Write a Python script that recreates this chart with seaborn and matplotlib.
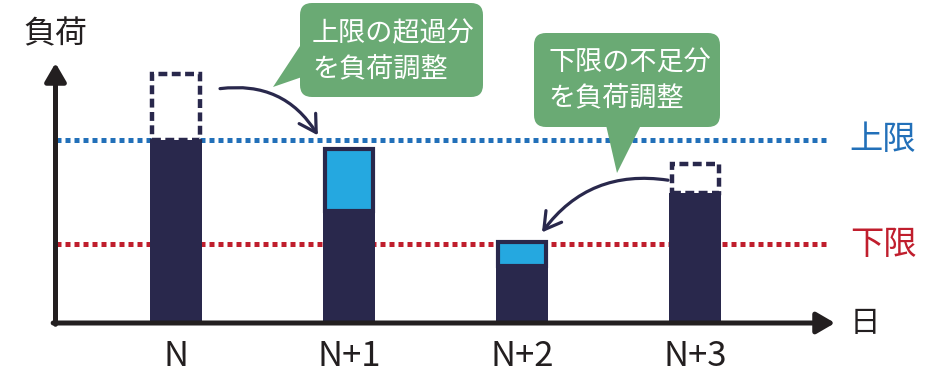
import matplotlib
matplotlib.use("Agg")
import matplotlib.pyplot as plt
import matplotlib.transforms as mtransforms
from matplotlib.patches import FancyBboxPatch, Polygon
import numpy as np
import seaborn as sns

# data (load units, upper limit = 100)
days = ["N", "N+1", "N+2", "N+3"]
load_before = [136, 61, 31, 87]   # planned load before adjustment
load_after = [100, 95, 44, 71]    # load after adjustment
upper_limit = 100
lower_limit = 43
callout_upper = ["上限の超過分", "を負荷調整"]
callout_lower = ["下限の不足分", "を負荷調整"]

NAVY = "#29284c"
CYAN = "#25a8e0"
GREEN = "#6aaa74"
BLUE = "#2270b9"
RED = "#c01e2d"
INK = "#231f20"

sns.set_style("white")
plt.rcParams["font.family"] = ["Noto Sans CJK JP", "DejaVu Sans"]

fig = plt.figure(figsize=(9.35, 3.92), dpi=100)
ax = fig.add_axes([55.5 / 935, 69 / 392, 779.5 / 935, 260 / 392])

bar_w = 0.30
px = 1 / 173.15  # one pixel in x data units

sns.barplot(x=days, y=load_after, color=NAVY, saturation=1, width=bar_w,
            ax=ax, zorder=3, linewidth=0)

pos = np.arange(len(days))
before = np.array(load_before)
after = np.array(load_after)
up = after > before
down = ~up

# added load (cyan inside navy frame)
ax.bar(pos[up], (after - before)[up], bottom=before[up], width=bar_w - 4 * px,
       color=CYAN, edgecolor=NAVY, linewidth=3, zorder=4)
# removed load (dashed outline)
ax.bar(pos[down], (before - after)[down], bottom=after[down], width=bar_w - 4.5 * px,
       color="white", edgecolor=NAVY, linewidth=3.2, linestyle=(0, (2.0, 1.0)), zorder=2)

# limit lines
ax.axhline(upper_limit, xmin=0, xmax=0.988, color=BLUE, lw=3.6,
           linestyle=(0, (1, 0.8)), zorder=1)
ax.axhline(lower_limit, xmin=0, xmax=0.988, color=RED, lw=3.6,
           linestyle=(0, (1, 0.8)), zorder=1)

blend = mtransforms.blended_transform_factory(ax.transAxes, ax.transData)
ax.text(1.019, upper_limit, "上限", color=BLUE, fontsize=24, va="center", ha="left",
        transform=blend, clip_on=False)
ax.text(1.019, lower_limit, "下限", color=RED, fontsize=24, va="center", ha="left",
        transform=blend, clip_on=False)
ax.text(1.019, 0, "日", color=INK, fontsize=22, va="center", ha="left",
        transform=blend, clip_on=False)
ax.text(0, 1.11, "負荷", color=INK, fontsize=23, va="center", ha="center",
        transform=ax.transAxes, clip_on=False)

# axes as arrows
arrow_kw = dict(arrowstyle="-|>,head_length=0.55,head_width=0.32", color=INK,
                lw=3.6, shrinkA=0, shrinkB=0, mutation_scale=20)
ax.annotate("", xy=(0, 1), xytext=(0, -0.005), xycoords="axes fraction",
            arrowprops=arrow_kw, annotation_clip=False)
ax.annotate("", xy=(1, 0), xytext=(-0.003, 0), xycoords="axes fraction",
            arrowprops=arrow_kw, annotation_clip=False)

# curved arrows showing load shift
curve_kw = dict(arrowstyle="->,head_length=0.6,head_width=0.35", color=NAVY,
                lw=2.3, shrinkA=0, shrinkB=0, mutation_scale=20)
ax.annotate("", xy=(0.82, 102.5), xytext=(0.255, 128),
            arrowprops=dict(connectionstyle="arc3,rad=-0.32", **curve_kw))
ax.annotate("", xy=(2.114, 49.5), xytext=(2.842, 78),
            arrowprops=dict(connectionstyle="arc3,rad=0.3", **curve_kw))

ax.set_xlim(-0.695, 3.806)
ax.set_ylim(0, 142)
ax.set_yticks([])
ax.set_xlabel("")
ax.set_ylabel("")
ax.tick_params(axis="x", length=0, pad=11.5, labelsize=25, labelcolor=INK)
for s in ax.spines.values():
    s.set_visible(False)
ax.patch.set_alpha(0)

# speech bubbles (pixel coordinates on an overlay)
ov = fig.add_axes([0, 0, 1, 1])
ov.set_xlim(0, 935)
ov.set_ylim(392, 0)
ov.axis("off")

ov.add_patch(FancyBboxPatch((300, 3), 183, 94, boxstyle="round,pad=0,rounding_size=12",
                            fc=GREEN, ec="none"))
ov.add_patch(Polygon([(302, 43), (273, 87), (302, 77)], closed=True, fc=GREEN, ec="none"))
ov.text(312, 34, callout_upper[0], color="white", fontsize=19.5, va="center", ha="left")
ov.text(312, 69, callout_upper[1], color="white", fontsize=19.5, va="center", ha="left")

ov.add_patch(FancyBboxPatch((534, 33), 186, 94, boxstyle="round,pad=0,rounding_size=12",
                            fc=GREEN, ec="none"))
ov.add_patch(Polygon([(606, 125), (617, 173), (641, 125)], closed=True, fc=GREEN, ec="none"))
ov.text(548, 63, callout_lower[0], color="white", fontsize=19.5, va="center", ha="left")
ov.text(548, 98, callout_lower[1], color="white", fontsize=19.5, va="center", ha="left")

fig.savefig("out.png", dpi=100)
